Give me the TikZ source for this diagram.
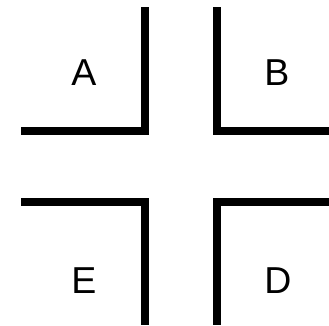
\documentclass[tikz,border=0pt]{standalone}
\usepackage{fontspec}
\setmainfont{Liberation Sans}
\begin{document}
\begin{tikzpicture}[x=1pt,y=-1pt,
  wall/.style={line width=8pt,line cap=butt,line join=miter,black},
  lab/.style={anchor=base,inner sep=0pt,font=\fontsize{37.5}{40}\selectfont}]
\useasboundingbox (0,0) rectangle (329,325);
\coordinate (a1) at (21,131); \coordinate (a2) at (145,131); \coordinate (a3) at (145,7);
\coordinate (b1) at (216.5,7); \coordinate (b2) at (216.5,131); \coordinate (b3) at (329,131);
\coordinate (e1) at (21,202); \coordinate (e2) at (145,202); \coordinate (e3) at (145,325);
\coordinate (d1) at (329,202); \coordinate (d2) at (216.5,202); \coordinate (d3) at (216.5,325);
\draw[wall] (a1) -- (a2) -- (a3);
\draw[wall] (b1) -- (b2) -- (b3);
\draw[wall] (e1) -- (e2) -- (e3);
\draw[wall] (d1) -- (d2) -- (d3);
\node[lab] (A) at (84,85) {A};
\node[lab] (B) at (277,85) {B};
\node[lab] (E) at (84,293) {E};
\node[lab] (D) at (278,293) {D};
\end{tikzpicture}
\end{document}
